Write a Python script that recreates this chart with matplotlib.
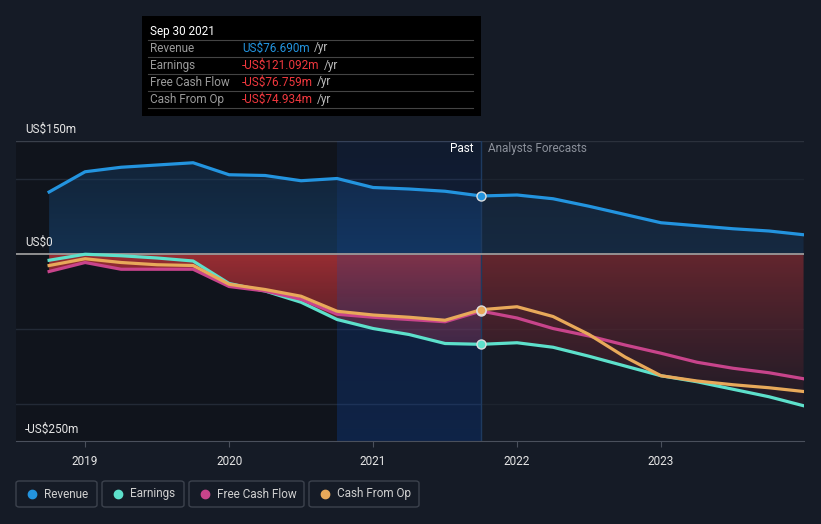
import numpy as np
import matplotlib
matplotlib.use("Agg")
import matplotlib.pyplot as plt
from matplotlib.patches import Rectangle, FancyBboxPatch, Polygon
from matplotlib.colors import LinearSegmentedColormap

plt.rcParams['font.family'] = ['Roboto', 'DejaVu Sans']

# --- data (US$ m, decimal years) ---
past_x = [2018.75, 2019.0, 2019.25, 2019.5, 2019.75, 2020.0, 2020.25,
          2020.5, 2020.75, 2021.0, 2021.25, 2021.5, 2021.75]
past_revenue = [82, 109, 115, 118, 121, 105, 104, 97, 100, 88, 86, 83, 76.69]
past_earnings = [-9, -1, -3, -6, -10, -40, -50, -65, -88, -100, -108, -120, -121.09]
past_fcf = [-24, -12, -21, -21, -21, -44, -50, -61, -81, -85, -88, -91, -76.76]
past_cfo = [-16, -7, -12, -15, -16, -41, -48, -57, -77, -82, -85, -89, -74.93]

fc_x = [2021.75, 2022.0, 2022.25, 2022.5, 2022.75, 2023.0, 2023.25,
        2023.5, 2023.75, 2023.99]
fc_revenue = [76.69, 78, 73, 63, 52, 41, 37, 33, 30, 25]
fc_earnings = [-121.09, -119, -125, -137, -150, -163, -171, -181, -191, -203]
fc_fcf = [-76.76, -86, -100, -110, -122, -133, -145, -153, -159, -167]
fc_cfo = [-74.93, -71, -84, -108, -138, -163, -170, -175, -179, -184]

year_ticks = [2019, 2020, 2021, 2022, 2023]
names = ["Revenue", "Earnings", "Free Cash Flow", "Cash From Op"]
colors = ["#2394df", "#5de0cb", "#c8448b", "#e8a95a"]

bg = "#151b26"
W, H = 821, 524

fig = plt.figure(figsize=(W / 100, H / 100), dpi=100, facecolor=bg)
ax = fig.add_axes([16 / W, 1 - 441 / H, (804 - 16) / W, 300 / H])
ax.set_facecolor(bg)
x0, x1 = 2018.52, 2023.993
ax.set_xlim(x0, x1)
ax.set_ylim(-250, 150)

# past shading
ax.axvspan(x0, 2021.75, color="#10141c", zorder=0, lw=0)

for v in [100, -100, -200]:
    ax.axhline(v, color="#232a36", lw=1, zorder=1)
ax.axhline(150, color="#3a404b", lw=1, zorder=1)

all_x = np.array(past_x + fc_x[1:])
rev = np.array(past_revenue + fc_revenue[1:])
earn = np.array(past_earnings + fc_earnings[1:])
fcf = np.array(past_fcf + fc_fcf[1:])
cfo = np.array(past_cfo + fc_cfo[1:])

# revenue gradient fill
poly = Polygon(np.column_stack([np.r_[all_x, all_x[::-1]],
                                np.r_[rev, np.zeros_like(rev)]]),
               closed=True, facecolor="none", edgecolor="none")
ax.add_patch(poly)
im = ax.imshow(np.linspace(0, 1, 100).reshape(-1, 1), extent=[x0, x1, 0, 130],
               origin="lower",
               cmap=LinearSegmentedColormap.from_list(
                   "r", [(0.09, 0.27, 0.45, 0.6), (0.09, 0.25, 0.42, 0.35)]),
               aspect="auto", zorder=2)
im.set_clip_path(poly)

# negative gradient fill down to the lowest line
low = np.minimum(np.minimum(earn, fcf), cfo)
poly2 = Polygon(np.column_stack([np.r_[all_x, all_x[::-1]],
                                 np.r_[low, np.zeros_like(low)]]),
                closed=True, facecolor="none", edgecolor="none")
ax.add_patch(poly2)
im2 = ax.imshow(np.linspace(0, 1, 100).reshape(-1, 1), extent=[x0, x1, -210, 0],
                origin="lower",
                cmap=LinearSegmentedColormap.from_list(
                    "n", [(0.55, 0.15, 0.2, 0.15), (0.66, 0.19, 0.21, 0.9)]),
                aspect="auto", zorder=2)
im2.set_clip_path(poly2)
# forecast part dimmer
ax.axvspan(2021.75, x1, color=bg, alpha=0.4, zorder=2.1, lw=0)

# highlighted last year of the past
ax.imshow(np.linspace(0, 1, 100).reshape(-1, 1), extent=[2020.75, 2021.75, -250, 150],
          origin="lower",
          cmap=LinearSegmentedColormap.from_list(
              "h", [(0.05, 0.3, 0.72, 0.28), (0.08, 0.3, 0.7, 0.13)]),
          aspect="auto", zorder=2.2)

ax.axhline(0, color="#9a9a9a", lw=1.3, zorder=3)

for ys, c, z in [(earn, colors[1], 4), (fcf, colors[2], 5), (cfo, colors[3], 6), (rev, colors[0], 7)]:
    ax.plot(all_x, ys, color=c, lw=2.3, zorder=z, solid_joinstyle="round")
    ax.plot([2021.75], [ys[len(past_x) - 1]], "o", ms=6.5, color=c,
            mec="#dddddd", mew=1, zorder=8)

ax.axvline(2021.75, color="#1e3a5f", lw=1, zorder=2.3)

ax.set_xticks(year_ticks)
ax.set_xticklabels([str(y) for y in year_ticks], color="#e6e6e6", fontsize=8.5)
ax.tick_params(axis="x", length=4, color="#4a505c", pad=6)
ax.set_yticks([])
for s in ["top", "left", "right"]:
    ax.spines[s].set_visible(False)
ax.spines["bottom"].set_color("#4a505c")

ax.text(2021.70, 140, "Past", color="#ffffff", fontsize=8.5, ha="right", va="center", zorder=9)
ax.text(2021.80, 140, "Analysts Forecasts", color="#8b909a", fontsize=8.5, ha="left", va="center", zorder=9)


def fx(px):
    return px / W


def fy(py):
    return 1 - py / H


# y labels
for lab, py in [("US$150m", 129), ("US$0", 242), ("-US$250m", 429)]:
    fig.text(fx(25), fy(py), lab, color="#e6e6e6", fontsize=8.5, va="center")

# tooltip
fig.add_artist(Rectangle((fx(142), fy(116)), (481 - 142) / W, 100 / H,
                         transform=fig.transFigure, facecolor="#000000", edgecolor="none", zorder=10))
fig.text(fx(150), fy(31), "Sep 30 2021", color="#ffffff", fontsize=8.5, va="center", zorder=11)
vals = ["US$76.690m", "-US$121.092m", "-US$76.759m", "-US$74.934m"]
vcols = ["#2394df", "#f0383e", "#f0383e", "#f0383e"]
rows_y = [48, 65, 82, 99]
for py in [40, 57, 74, 91, 108]:
    fig.add_artist(plt.Line2D([fx(148), fx(473)], [fy(py), fy(py)], transform=fig.transFigure,
                              color="#444444", lw=0.8, zorder=11))
for n, v, c, py in zip(names, vals, vcols, rows_y):
    fig.text(fx(150), fy(py), n, color="#9a9a9a", fontsize=8.5, va="center", zorder=11)
    t = fig.text(fx(242), fy(py), v, color=c, fontsize=8.5, va="center", zorder=11)
    fig.canvas.draw()
    bb = t.get_window_extent()
    fig.text(bb.x1 / W + 4 / W, fy(py), "/yr", color="#bbbbbb", fontsize=8.5, va="center", zorder=11)

# legend
boxes = [(16, 97), (102, 184), (189, 304), (309, 419)]
for (bx0, bx1), n, c in zip(boxes, names, colors):
    fig.add_artist(FancyBboxPatch((fx(bx0), fy(507)), (bx1 - bx0) / W, 26 / H,
                                  boxstyle="round,pad=0,rounding_size=0.004",
                                  transform=fig.transFigure, facecolor=bg,
                                  edgecolor="#3c424d", lw=1))
    fig.add_artist(plt.Line2D([fx(bx0 + 16)], [fy(494)], marker="o", ms=6, color=c,
                              transform=fig.transFigure))
    fig.text(fx(bx0 + 28), fy(494), n, color="#d0d0d0", fontsize=8.5, va="center")

fig.savefig("out.png", dpi=100, facecolor=bg)
